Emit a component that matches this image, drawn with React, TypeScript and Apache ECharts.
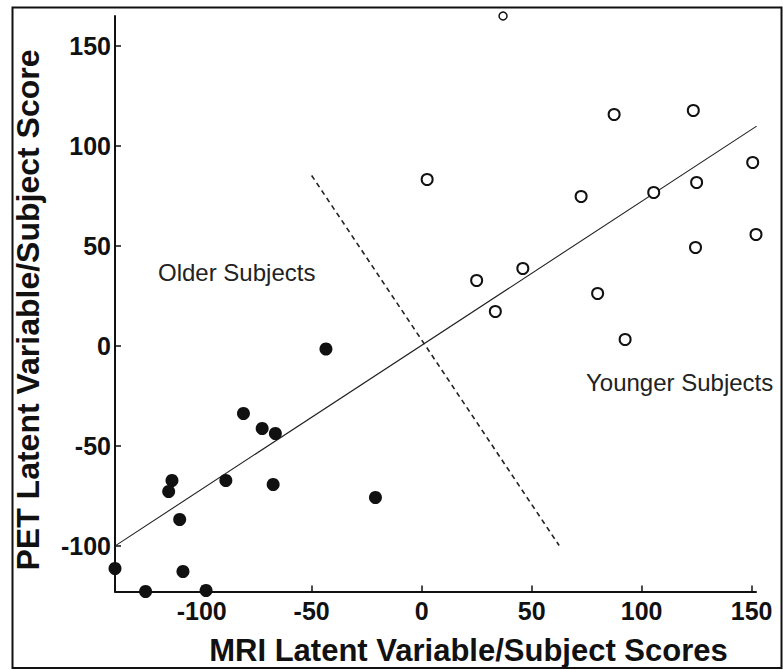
import React, { useEffect, useRef } from "react";
import * as echarts from "echarts";

// Older subjects (filled circles)
const olderX = [-43.5, -81, -72.5, -66.5, -113.5, -115, -89, -67.5, -21, -110, -139.4, -108.5, -125.5, -98];
const olderY = [-1.75, -34, -41.5, -44, -67.5, -73, -67.5, -69.5, -76, -87, -111.5, -113, -123, -122.5];

// Younger subjects (open circles)
const youngerX = [37, 87.5, 123.5, 2.5, 72.5, 105.5, 125, 150.5, 152, 124.5, 46, 25, 80, 33.5, 92.5];
const youngerY = [164.75, 115.5, 117.5, 83, 74.5, 76.5, 81.5, 91.5, 55.5, 49, 38.5, 32.5, 26, 17, 3];

// Regression line and group divider
const regressionX = [-139.5, 152.3];
const regressionY = [-100.3, 109.7];
const dividerX = [-50, 62.5];
const dividerY = [85, -100];

const tickValues = [-100, -50, 0, 50, 100, 150];

const xTitle = "MRI Latent Variable/Subject Scores";
const yTitle = "PET Latent Variable/Subject Score";
const olderLabel = "Older Subjects";
const youngerLabel = "Younger Subjects";

const FONT = "'Liberation Sans', Arial, Helvetica, sans-serif";

export default function App() {
  const ref = useRef<HTMLDivElement>(null);

  useEffect(() => {
    if (!ref.current) return;
    const chart = echarts.init(ref.current, null, { renderer: "svg" });

    const zip = (xs: number[], ys: number[]) => xs.map((x, i) => [x, ys[i]]);

    const axisCommon = {
      splitLine: { show: false },
      axisLine: { show: true, onZero: false, lineStyle: { color: "#111", width: 2 } },
      axisTick: {
        show: true,
        inside: true,
        length: 6,
        customValues: tickValues,
        lineStyle: { color: "#111", width: 1.5 },
      },
    };

    chart.setOption({
      animation: false,
      backgroundColor: "#fff",
      grid: { left: 115, right: 27, top: 16, bottom: 78.5, containLabel: false },
      xAxis: {
        type: "value",
        min: -139.4,
        max: 152,
        ...axisCommon,
        axisLabel: {
          customValues: tickValues,
          margin: 7,
          color: "#111",
          fontSize: 25,
          fontWeight: "bold",
          fontFamily: FONT,
        },
      },
      yAxis: {
        type: "value",
        min: -123,
        max: 164.75,
        ...axisCommon,
        axisLabel: {
          customValues: tickValues,
          margin: 4,
          color: "#111",
          fontSize: 25,
          fontWeight: "bold",
          fontFamily: FONT,
        },
      },
      series: [
        {
          type: "line",
          data: zip(regressionX, regressionY),
          symbol: "none",
          lineStyle: { color: "#222", width: 1.1 },
          z: 1,
          clip: false,
        },
        {
          type: "line",
          data: zip(dividerX, dividerY),
          symbol: "none",
          lineStyle: { color: "#222", width: 1.6, type: [5, 4] },
          z: 1,
          clip: false,
        },
        {
          type: "scatter",
          data: zip(olderX, olderY),
          symbol: "circle",
          symbolSize: 13,
          itemStyle: { color: "#111", opacity: 1 },
          clip: false,
          z: 3,
        },
        {
          type: "scatter",
          data: zip(youngerX, youngerY).map((v, i) =>
            i === 0 ? { value: v, symbolSize: 8, itemStyle: { borderWidth: 1.5 } } : { value: v }
          ),
          symbol: "circle",
          symbolSize: 11,
          itemStyle: { color: "#fff", borderColor: "#111", borderWidth: 2, opacity: 1 },
          clip: false,
          z: 3,
        },
      ],
      graphic: [
        {
          type: "rect",
          shape: { x: 12.5, y: 7.5, width: 769, height: 660.5 },
          style: { fill: "none", stroke: "#111", lineWidth: 2 },
          silent: true,
          z: 10,
        },
        {
          type: "text",
          x: 468.5,
          y: 650,
          style: {
            text: xTitle,
            fill: "#111",
            font: `bold 31px ${FONT}`,
            textAlign: "center",
            textVerticalAlign: "middle",
          },
        },
        {
          type: "text",
          x: 28,
          y: 310,
          rotation: Math.PI / 2,
          style: {
            text: yTitle,
            fill: "#111",
            font: `bold 32px ${FONT}`,
            textAlign: "center",
            textVerticalAlign: "middle",
          },
        },
        {
          type: "text",
          x: 158,
          y: 272,
          style: {
            text: olderLabel,
            fill: "#222",
            font: `24px ${FONT}`,
            textAlign: "left",
            textVerticalAlign: "middle",
          },
        },
        {
          type: "text",
          x: 586,
          y: 382,
          style: {
            text: youngerLabel,
            fill: "#222",
            font: `24px ${FONT}`,
            textAlign: "left",
            textVerticalAlign: "middle",
          },
        },
      ],
    });

    return () => chart.dispose();
  }, []);

  return (
    <div
      ref={ref}
      style={{ position: "absolute", left: 0, top: 0, width: 783, height: 670, background: "#fff" }}
    />
  );
}
